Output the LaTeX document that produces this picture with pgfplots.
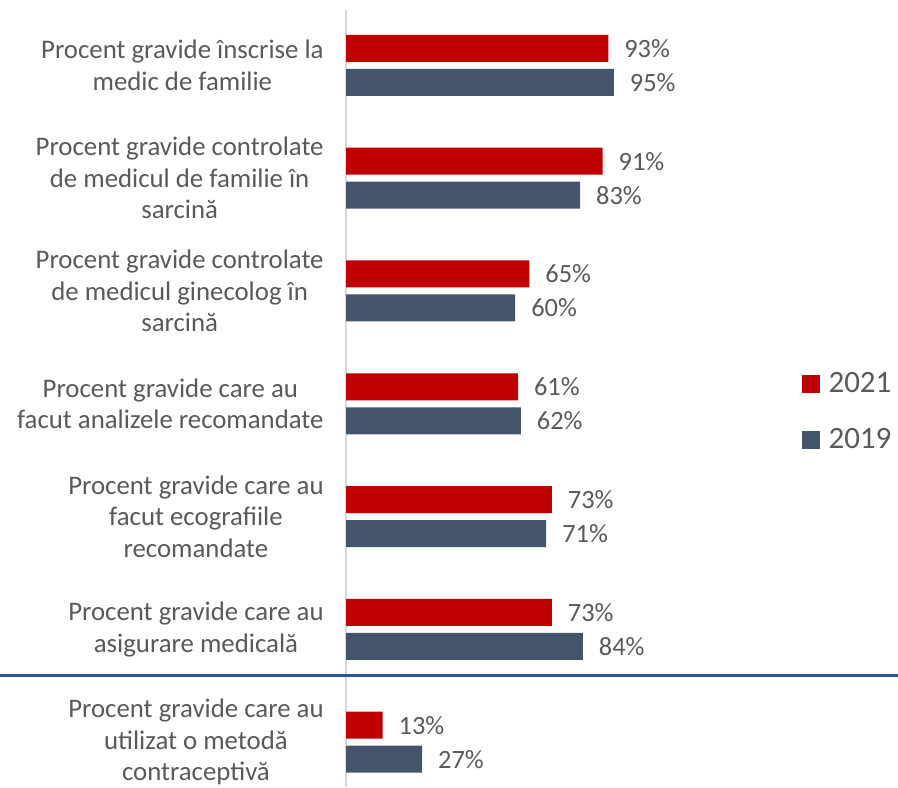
\documentclass[border=0pt]{standalone}
\usepackage{fontspec}
\setmainfont{Carlito}
\usepackage{pgfplots}
\pgfplotsset{compat=1.18}

\definecolor{red21}{HTML}{C00000}
\definecolor{slate19}{HTML}{44546A}
\definecolor{txtgray}{HTML}{595959}
\definecolor{axgray}{HTML}{D9D9D9}
\definecolor{sepblue}{HTML}{2F5597}

\begin{document}
\begin{tikzpicture}
% frame in px (1px = 0.5pt), origin top-left
\useasboundingbox (0,0) rectangle (449pt,-393.5pt);
\begin{axis}[
  at={(173pt,-393.5pt)}, anchor=south west,
  scale only axis, width=141pt, height=388.5pt,
  xmin=0, xmax=100, ymin=-0.398, ymax=6.491,
  xbar, bar width=13.5pt,
  axis x line=none,
  axis y line*=left,
  y axis line style={draw=axgray, line width=0.8pt, -},
  ytick={0,1,2,3,4,5,6},
  yticklabels={
    {Procent gravide care au\\utilizat o metodă\\contraceptivă},
    {Procent gravide care au\\asigurare medicală},
    {Procent gravide care au\\facut ecografiile\\recomandate},
    {Procent gravide care au\\facut analizele recomandate},
    {Procent gravide controlate\\de medicul ginecolog în\\sarcină},
    {Procent gravide controlate\\de medicul de familie în\\sarcină},
    {Procent gravide înscrise la\\medic de familie}},
  major tick length=0pt,
  yticklabel style={align=center, anchor=east, xshift=-7.7pt,
    font=\fontsize{13.4pt}{15.8pt}\selectfont, text=txtgray},
  point meta=x,
  nodes near coords={\pgfmathprintnumber[assume math mode=true]{\pgfplotspointmeta}\%},
  every node near coord/.append style={anchor=west, xshift=4.5pt,
    font=\fontsize{13.2pt}{15.8pt}\selectfont, text=txtgray},
  clip=false,
  legend style={at={(axis cs:161.4,3.32)}, anchor=north west, draw=none, fill=none,
    font=\fontsize{15.5pt}{18pt}\selectfont, text=txtgray, row sep=12.5pt,
    inner sep=0pt},
  legend image code/.code={\fill[#1, draw=none] (0pt,-4.5pt) rectangle (9pt,4.5pt);
    \path (11.5pt,0pt);},
]
\addplot[fill=red21, draw=none, bar shift=8.5pt] coordinates
  {(93,6) (91,5) (65,4) (61,3) (73,2) (73,1) (13,0)};
\addlegendentry{2021}
\addplot[fill=slate19, draw=none, bar shift=-8.5pt] coordinates
  {(95,6) (83,5) (60,4) (62,3) (71,2) (84,1) (27,0)};
\addlegendentry{2019}
\end{axis}
\draw[sepblue, line width=1.5pt] (0pt,-337.5pt) -- (449pt,-337.5pt);
\end{tikzpicture}
\end{document}
